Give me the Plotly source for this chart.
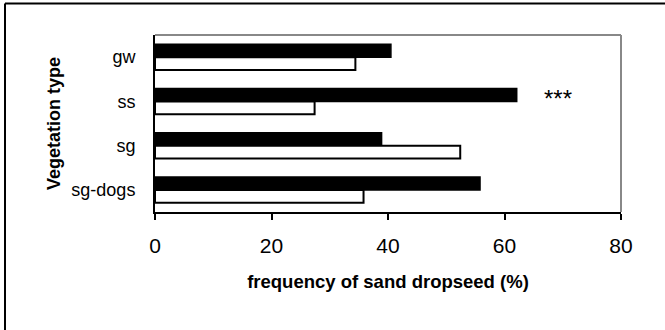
import plotly.graph_objects as go

categories = ["gw", "ss", "sg", "sg-dogs"]
series_black = [40.5, 62.1, 38.9, 55.8]
series_white = [34.4, 27.4, 52.4, 35.8]
x_ticks = [0, 20, 40, 60, 80]

L, R, T, B = 155, 44, 35, 118
W, H = 665, 330
pw, ph = W - L - R, H - T - B

def px(xpix):
    return (xpix - L) / pw

def py(ypix):
    return (H - B - ypix) / ph

fig = go.Figure()
fig.add_trace(go.Bar(y=categories, x=series_black, orientation="h",
                     marker=dict(color="black", line=dict(color="black", width=1.5)),
                     showlegend=False))
fig.add_trace(go.Bar(y=categories, x=series_white, orientation="h",
                     marker=dict(color="white", line=dict(color="black", width=2)),
                     showlegend=False))

font = "Liberation Sans, Arial, sans-serif"
fig.update_layout(
    width=W, height=H,
    margin=dict(l=L, r=R, t=T, b=B, autoexpand=False),
    paper_bgcolor="white", plot_bgcolor="white",
    barmode="group", bargap=0.42, bargroupgap=0,
    font=dict(family=font, color="black"),
    xaxis=dict(range=[0, 80], tickvals=x_ticks, ticks="outside", ticklen=6,
               tickwidth=1.5, tickcolor="black",
               showline=True, linecolor="black", linewidth=2,
               showgrid=False, zeroline=False,
               tickfont=dict(size=21, family=font), ticklabelstandoff=8,
               title=dict(text="<b>frequency of sand dropseed (%)</b>",
                          font=dict(size=18.5, family=font), standoff=19)),
    yaxis=dict(autorange="reversed", showline=True, linecolor="black", linewidth=2,
               showgrid=False, zeroline=False, ticks="",
               tickfont=dict(size=18, family=font), ticklabelstandoff=14,
               title=dict(text="<b>Vegetation type</b>",
                          font=dict(size=18, family=font), standoff=6)),
    shapes=[
        dict(type="line", xref="paper", yref="paper", x0=0, x1=1, y0=1, y1=1,
             line=dict(color="#888888", width=2)),
        dict(type="line", xref="paper", yref="paper", x0=1, x1=1, y0=0, y1=1,
             line=dict(color="#888888", width=2)),
        dict(type="line", xref="paper", yref="paper", x0=px(5), x1=px(665),
             y0=py(3.5), y1=py(3.5), line=dict(color="black", width=2)),
        dict(type="line", xref="paper", yref="paper", x0=px(5), x1=px(5),
             y0=py(3.5), y1=py(330), line=dict(color="black", width=2)),
    ],
    annotations=[
        dict(text="***", x=69.2, xref="x", y=py(98), yref="paper",
             showarrow=False, font=dict(size=24, family=font),
             xanchor="center", yanchor="middle"),
    ],
)

fig.write_html("out.html", config={"displayModeBar": False},
               post_script="document.body.style.margin='0';")
